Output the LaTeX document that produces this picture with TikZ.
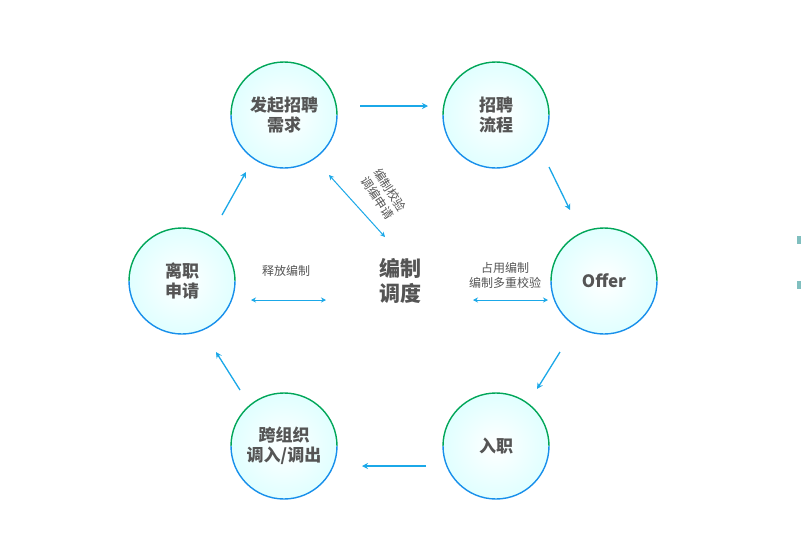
\documentclass[tikz,border=0pt]{standalone}
\usepackage{fontspec}
\setmainfont{Noto Sans CJK SC}
\usetikzlibrary{arrows.meta}
\definecolor{arr}{HTML}{1BA8E8}
\definecolor{txt}{HTML}{555555}
\tikzset{
 stage/.style={circle,minimum size=106pt,inner sep=0pt,draw=none,
   inner color=white,outer color=cyan!12!white,align=center,
   font=\fontsize{17}{20}\selectfont\bfseries,text=txt},
 flow/.style={-{Stealth[length=6pt,width=6pt]},arr,line width=1.3pt},
 both/.style={{Stealth[length=5pt,width=5pt]}-{Stealth[length=5pt,width=5pt]},arr,line width=1pt},
 lab/.style={font=\fontsize{12}{15}\selectfont,text=txt,align=center,inner sep=0pt}
}
\begin{document}
\begin{tikzpicture}[x=1pt,y=-1pt]
\useasboundingbox (0,0) rectangle (801,547);
\fill[white] (0,0) rectangle (801,547);
\foreach \n/\x/\y/\t in {a/284/115/{发起招聘\\需求},b/496/115/{招聘\\流程},c/604/281/{Offer},d/496/446/{入职},e/284/446/{跨组织\\调入/调出},f/182/281/{离职\\申请}}{
 \node[stage] (\n) at (\x,\y) {\t};
 \draw[line width=1.4pt,color=teal!70!green] (\x,\y) ++(0:53) arc[start angle=0,end angle=-180,radius=53];
 \draw[line width=1.4pt,color=arr!85!blue] (\x,\y) ++(0:53) arc[start angle=0,end angle=180,radius=53];
}
\coordinate (a1) at (360,106); \coordinate (a2) at (428,106);
\coordinate (b1) at (549,167); \coordinate (b2) at (570,210);
\coordinate (c1) at (560,352); \coordinate (c2) at (537,389);
\coordinate (d1) at (426,466); \coordinate (d2) at (362,466);
\coordinate (e1) at (240,390); \coordinate (e2) at (216,352);
\coordinate (f1) at (222,215); \coordinate (f2) at (246,172);
\draw[flow] (a1)--(a2);
\draw[flow] (b1)--(b2);
\draw[flow] (c1)--(c2);
\draw[flow] (d1)--(d2);
\draw[flow] (e1)--(e2);
\draw[flow] (f1)--(f2);
\coordinate (l1) at (251,300); \coordinate (l2) at (326,300);
\coordinate (r1) at (473,300); \coordinate (r2) at (548,300);
\coordinate (t1) at (329,175); \coordinate (t2) at (385,237);
\draw[both] (l1)--(l2);
\draw[both] (r1)--(r2);
\draw[both] (t1)--(t2);
\node[lab] (rel) at (286,271) {释放编制};
\node[lab] (occ) at (505,275) {占用编制\\编制多重校验};
\node[lab,rotate=-57] (chk) at (384,194) {编制校验\\调编申请};
\node[font=\fontsize{21}{25}\selectfont\bfseries,text=txt,align=center] (ctr) at (400,281) {编制\\调度};
\fill[teal!50] (797,236) rectangle (801,244);
\fill[teal!50] (797,281) rectangle (801,289);
\end{tikzpicture}
\end{document}
